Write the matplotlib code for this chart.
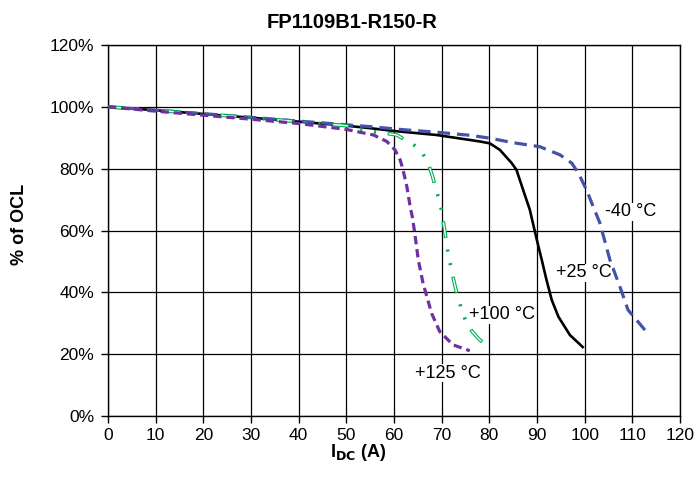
import matplotlib.pyplot as plt
from matplotlib.ticker import FuncFormatter

plt.rcParams['font.family'] = ['Liberation Sans', 'DejaVu Sans']
plt.rcParams['lines.scale_dashes'] = False

# current (A) and % of OCL for each temperature
x_25 = [0, 10, 20, 30, 40, 50, 55, 60, 68.9, 75, 78, 80.1, 82.2, 84.7, 85.7, 87.1, 88.5,
        89.4, 90.2, 91, 92, 93.1, 94.5, 96.9, 99.6]
y_25 = [100, 98.9, 97.7, 96.5, 95.2, 93.9, 93.1, 92.2, 90.9, 89.5, 88.8, 88.2, 86.1, 81.8, 79.6, 73.1, 66.7,
        60.7, 55.5, 50.5, 44, 37.5, 32.1, 26.2, 22.3]

x_m40 = [0, 10, 20, 30, 40, 50, 55, 62, 68.9, 75.9, 80, 85, 90.6, 94.8, 97.3, 98.7, 100.4, 101.8,
         103.2, 105.3, 107.4, 109.1, 110.6, 113.5]
y_m40 = [100, 98.9, 97.8, 96.6, 95.4, 94.2, 93.6, 92.6, 91.8, 90.8, 89.9, 88.4, 87.1, 84.5, 81.8, 78.5, 73.1, 67.7,
         62.4, 50.5, 41.8, 34.3, 31.6, 26.2]

x_100 = [0, 10, 20, 30, 40, 50, 55.3, 58.1, 60.6, 64.4, 66.1, 67.3, 68.1, 69.3, 69.9, 70.7, 71.4,
         71.9, 72.4, 73, 74.2, 75.1, 76.4, 78, 79.8]
y_100 = [100, 98.9, 97.7, 96.5, 95.2, 93.9, 92, 91.5, 90.9, 87.4, 84.7, 81.2, 77.4, 70.8, 67, 59.5, 52,
         48.6, 44.8, 40.8, 34.3, 30.5, 27.3, 24.6, 22.4]

x_125 = [0, 10, 20, 30, 40, 50, 55.7, 58.5, 60.2, 61.3, 61.9, 62.7, 63.4, 63.9, 64.5, 65.1, 66.1,
         67.9, 69.6, 72.4, 75.9]
y_125 = [100, 98.6, 97.3, 96, 94.6, 92.7, 90.9, 88.8, 86.1, 82.8, 79.6, 74.2, 67.7, 64, 57.5, 50.5, 42.9,
         33.2, 27.3, 23, 21.1]

labels = ['-40 °C', '+25 °C', '+100 °C', '+125 °C']
label_pos = [(104.3, 66), (93.9, 46.3), (75.7, 32.7), (64.4, 13.9)]

fig = plt.figure(figsize=(6.94, 4.92), dpi=100)
ax = fig.add_axes([0.1556, 0.1545, 0.8242, 0.754])

ax.plot(x_25, y_25, color='black', lw=1.9, zorder=3)
ax.plot(x_m40, y_m40, color='#4452a8', lw=2.3, linestyle=(0, (9, 5)), zorder=4)

# +100 °C: hollow long dashes with two dots
green_dash = (0, (12, 8.5, 1.5, 8.5, 1.5, 8.5))
ax.plot(x_100, y_100, color='#00b050', lw=2.6, linestyle=green_dash, zorder=5)
ax.plot(x_100, y_100, color='white', lw=1.0, linestyle=(39.75, (10.5, 30)), zorder=6)

ax.plot(x_125, y_125, color='#7030a0', lw=2.3, linestyle=(0, (6, 3.5)), zorder=7)

for txt, (lx, ly) in zip(labels, label_pos):
    ax.text(lx, ly, txt, fontsize=13, va='center', ha='left', zorder=8,
            bbox=dict(facecolor='white', edgecolor='none', pad=0.5))

ax.set_xlim(0, 120)
ax.set_ylim(0, 120)
ax.set_xticks(range(0, 121, 10))
ax.set_yticks(range(0, 121, 20))
ax.yaxis.set_major_formatter(FuncFormatter(lambda v, p: f'{v:.0f}%'))
ax.grid(True, color='black', lw=0.9)
ax.set_axisbelow(True)
ax.tick_params(direction='out', length=5, width=1, labelsize=12.5, colors='black')
ax.tick_params(axis='y', pad=5)
for s in ax.spines.values():
    s.set_linewidth(1)
    s.set_color('black')

fig.text(0.507, 0.955, 'FP1109B1-R150-R', fontsize=14.5, fontweight='bold', ha='center', va='center')
fig.text(0.516, 0.081, r'I$_{\mathbf{DC}}$ (A)', fontsize=13, fontweight='bold', ha='center', va='center')
fig.text(0.028, 0.543, '% of OCL', fontsize=13, fontweight='bold', ha='center', va='center', rotation=90)

fig.savefig('out.png', dpi=100)
